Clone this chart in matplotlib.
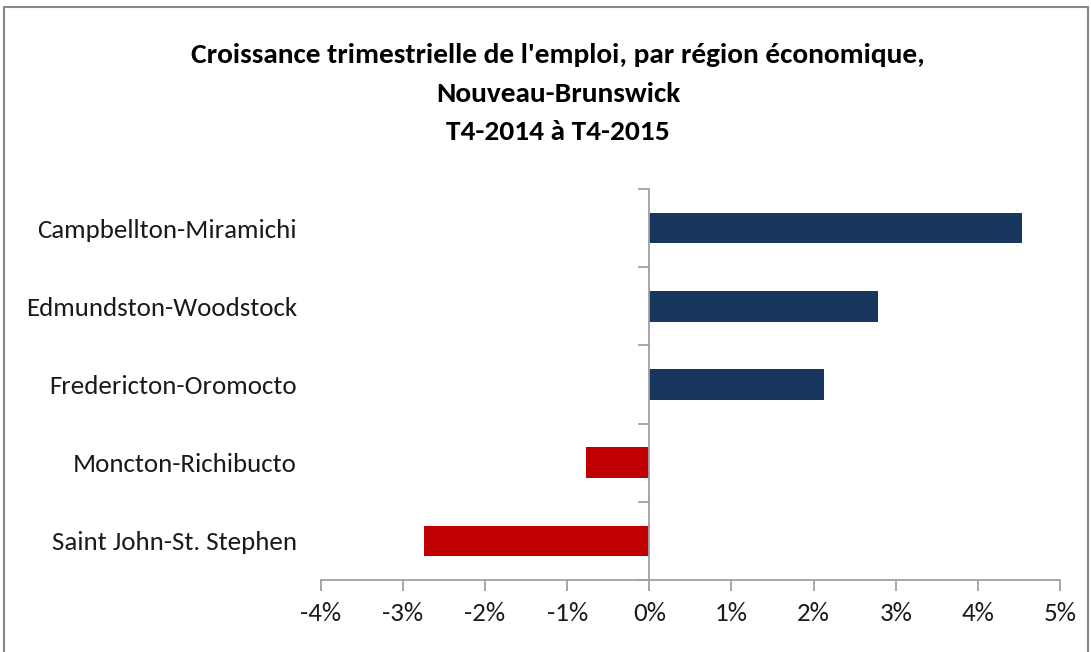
import matplotlib
matplotlib.use("Agg")
import matplotlib.pyplot as plt
from matplotlib.patches import Rectangle
from matplotlib.ticker import FuncFormatter, MultipleLocator

regions = ["Campbellton-Miramichi", "Edmundston-Woodstock", "Fredericton-Oromocto",
           "Moncton-Richibucto", "Saint John-St. Stephen"]
growth = [4.54, 2.79, 2.13, -0.77, -2.74]
pos_color = "#17375E"
neg_color = "#C00000"

W, H = 1091, 652
fig = plt.figure(figsize=(W / 100, H / 100), dpi=100)
fam = ["Carlito", "DejaVu Sans"]

ax = fig.add_axes([320.7 / W, 1 - 580 / H, (1060 - 320.7) / W, (580 - 189) / H])
ypos = list(range(len(regions)))[::-1]
colors = [pos_color if v >= 0 else neg_color for v in growth]
ax.barh(ypos, growth, height=0.39, color=colors, edgecolor="none", zorder=3)

ax.set_xlim(-4, 5)
ax.set_ylim(-0.5, len(regions) - 0.5)
ax.xaxis.set_major_locator(MultipleLocator(1))
ax.xaxis.set_major_formatter(FuncFormatter(lambda v, p: f"{int(round(v))}%"))

for s in ["top", "right", "left"]:
    ax.spines[s].set_visible(False)
ax.spines["bottom"].set_color("#A0A0A0")
ax.spines["bottom"].set_linewidth(1.3)
ax.axvline(0, color="#A0A0A0", lw=1.3, zorder=4)

ax.set_yticks(ypos)
ax.set_yticklabels(regions, fontsize=19.4, family=fam, color="#1a1a1a")
ax.tick_params(axis="y", length=0, pad=17)
for b in [i - 0.5 for i in range(len(regions) + 1)]:
    ax.plot([-0.12, 0], [b, b], color="#A0A0A0", lw=1.3, clip_on=False, zorder=4)
ax.tick_params(axis="x", direction="out", length=8, width=1.3, color="#A0A0A0",
               labelsize=19.4, pad=8)
for lab in ax.get_xticklabels():
    lab.set_family(fam)
    lab.set_color("#1a1a1a")

title_lines = ["Croissance trimestrielle de l'emploi, par région économique,",
               "Nouveau-Brunswick", "T4-2014 à T4-2015"]
for i, t in enumerate(title_lines):
    fig.text(558 / W, 1 - (55 + 38.5 * i) / H, t, ha="center", va="center",
             fontsize=21.2, fontweight="bold", family=fam, color="black")

fig.patches.append(Rectangle((4 / W, -0.05), (1088 - 4) / W, 1 - 7 / H + 0.05,
                             transform=fig.transFigure, fill=False,
                             edgecolor="#888888", lw=1.5))
fig.savefig("out.png", dpi=100, facecolor="white")
